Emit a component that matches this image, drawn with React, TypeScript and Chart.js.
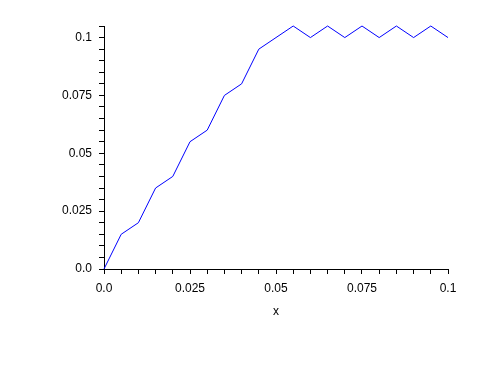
import React, { useEffect, useRef } from 'react';
import { Chart, registerables } from 'chart.js';

Chart.register(...registerables);

const xValues = [0, 0.005, 0.01, 0.015, 0.02, 0.025, 0.03, 0.035, 0.04, 0.045, 0.05, 0.055, 0.06, 0.065, 0.07, 0.075, 0.08, 0.085, 0.09, 0.095, 0.1];
const yValues = [0, 0.015, 0.02, 0.035, 0.04, 0.055, 0.06, 0.075, 0.08, 0.095, 0.1, 0.105, 0.1, 0.105, 0.1, 0.105, 0.1, 0.105, 0.1, 0.105, 0.1];
const majorTickValues = [0, 0.025, 0.05, 0.075, 0.1];
const xTickLabels = ['0.0', '0.025', '0.05', '0.075', '0.1'];
const yTickLabels = ['0.0', '0.025', '0.05', '0.075', '0.1'];
const xTitle = 'x';

function labelFor(v: number, labels: string[]): string {
  for (let i = 0; i < majorTickValues.length; i++) {
    if (Math.abs(v - majorTickValues[i]) < 1e-9) return labels[i];
  }
  return '';
}

export default function App() {
  const ref = useRef<HTMLCanvasElement | null>(null);
  useEffect(() => {
    if (!ref.current) return;
    const font = { family: 'Liberation Sans', size: 12 };
    const chart = new Chart(ref.current, {
      type: 'scatter',
      data: {
        datasets: [
          {
            data: xValues.map((x, i) => ({ x, y: yValues[i] })),
            showLine: true,
            borderColor: '#0000ff',
            borderWidth: 1,
            pointRadius: 0,
            fill: false,
            clip: false as any,
          },
        ],
      },
      options: {
        animation: false,
        responsive: false,
        devicePixelRatio: 1,
        layout: { padding: { left: 0, top: 26, right: 53, bottom: 48 } },
        plugins: { legend: { display: false }, tooltip: { enabled: false } },
        scales: {
          x: {
            type: 'linear',
            min: 0,
            max: 0.1,
            border: { display: true, color: '#000', width: 1 },
            grid: { drawOnChartArea: false, drawTicks: true, tickLength: 5, tickColor: '#000', color: '#000' },
            ticks: {
              stepSize: 0.005,
              autoSkip: false,
              maxRotation: 0,
              padding: 7,
              color: '#000',
              font,
              callback: (v: any) => labelFor(Number(v), xTickLabels),
            },
            title: { display: true, text: xTitle, color: '#000', font, padding: 0 },
            afterFit: (s: any) => { s.height = 50; },
          },
          y: {
            type: 'linear',
            min: 0,
            max: 0.105,
            border: { display: true, color: '#000', width: 1 },
            grid: { drawOnChartArea: false, drawTicks: true, tickLength: 5, tickColor: '#000', color: '#000' },
            ticks: {
              stepSize: 0.005,
              autoSkip: false,
              padding: 7,
              color: '#000',
              font,
              callback: (v: any) => labelFor(Number(v), yTickLabels),
            },
            afterFit: (s: any) => { s.width = 104; },
          },
        },
      },
    });
    return () => chart.destroy();
  }, []);
  return (
    <div style={{ position: 'absolute', left: 0, top: 0, width: 501, height: 367, background: '#fff' }}>
      <canvas ref={ref} width={501} height={367} style={{ display: 'block' }} />
    </div>
  );
}
